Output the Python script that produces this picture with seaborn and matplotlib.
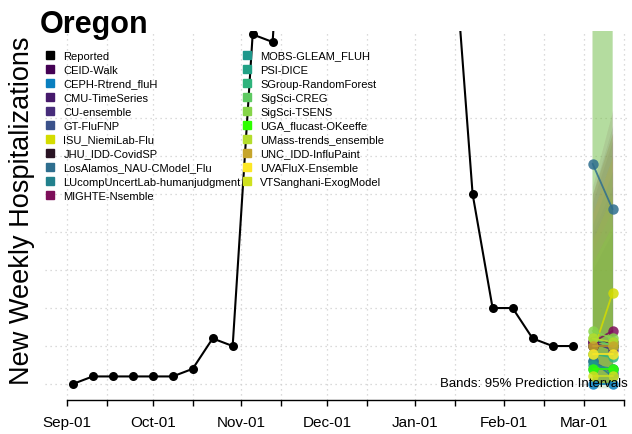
import pandas as pd
import numpy as np
import matplotlib
matplotlib.use("Agg")
import matplotlib.pyplot as plt
import matplotlib.dates as mdates
from matplotlib.lines import Line2D
from matplotlib.ticker import FuncFormatter
import seaborn as sns

# reported weekly hospitalizations (week ending dates)
rep_dates = ["2022-09-03", "2022-09-10", "2022-09-17", "2022-09-24", "2022-10-01",
             "2022-10-08", "2022-10-15", "2022-10-22", "2022-10-29", "2022-11-05",
             "2022-11-12", "2022-11-19", "2022-11-26", "2022-12-03", "2022-12-10",
             "2022-12-17", "2022-12-24", "2022-12-31", "2023-01-07", "2023-01-14",
             "2023-01-21", "2023-01-28", "2023-02-04", "2023-02-11", "2023-02-18",
             "2023-02-25"]
rep_values = [0, 2, 2, 2, 2, 2, 4, 12, 10, 92, 90, 180, 260, 310, 330, 300, 260,
              210, 160, 120, 50, 20, 20, 12, 10, 10]

fc_dates = ["2023-03-04", "2023-03-11"]

models = ["CEID-Walk", "CEPH-Rtrend_fluH", "CMU-TimeSeries", "CU-ensemble",
          "GT-FluFNP", "ISU_NiemiLab-Flu", "JHU_IDD-CovidSP",
          "LosAlamos_NAU-CModel_Flu", "LUcompUncertLab-humanjudgment",
          "MIGHTE-Nsemble", "MOBS-GLEAM_FLUH", "PSI-DICE", "SGroup-RandomForest",
          "SigSci-CREG", "SigSci-TSENS", "UGA_flucast-OKeeffe",
          "UMass-trends_ensemble", "UNC_IDD-InfluPaint", "UVAFluX-Ensemble",
          "VTSanghani-ExogModel"]
model_colors = ["#440154", "#0a7fbf", "#46196b", "#472d7b", "#3b528b", "#d4dc00",
                "#2a1424", "#2e6e8e", "#22818d", "#7d0f5a", "#1f978b", "#21a185",
                "#2eb37c", "#5ec962", "#86d549", "#2eff00", "#b4dd2c", "#c6a52c",
                "#fde725", "#cfe11f"]

# point forecasts for the two target weeks
fc_mar04 = [11, 0, 10, 11, 6, 8, 10, 58, 6, 11, 5, 4, 8, 12, 14, 4, 12, 10, 8, 2]
fc_mar11 = [11, 0, 10, 9, 3, 24, 10, 46, 2, 14, 4, 4, 7, 10, 12, 4, 11, 10, 8, 2]

# 95% prediction intervals
lo_mar04 = [0, -1, 0, 0, 0, 0, 0, 5, 0, 0, 0, 0, 0, 0, 0, 0, 0, 0, 0, -1]
lo_mar11 = [0, -1, 0, 0, 0, 0, 0, 2, 0, 0, 0, 0, 0, 0, 0, 0, 0, 0, 0, -1]
hi_mar04 = [45, 30, 50, 48, 40, 100, 50, 110, 38, 52, 42, 35, 95, 110, 130, 32, 100, 50, 45, 38]
hi_mar11 = [60, 40, 68, 64, 52, 130, 66, 150, 50, 72, 56, 46, 125, 150, 180, 42, 140, 66, 60, 50]

sns.set_style("white")
plt.rcParams["font.family"] = ["Liberation Sans", "DejaVu Sans"]
plt.rcParams["text.color"] = "black"

fig = plt.figure(figsize=(6.32, 4.35), dpi=100)
ax = fig.add_axes([45 / 632, 1 - 401 / 435, 585 / 632, 369 / 435])

rep = pd.DataFrame({"date": pd.to_datetime(rep_dates), "value": rep_values})
fc = pd.DataFrame({
    "date": np.repeat(pd.to_datetime(fc_dates), len(models)),
    "model": models * 2,
    "value": fc_mar04 + fc_mar11,
})
palette = dict(zip(models, model_colors))
fdates = pd.to_datetime(fc_dates)

# grid
for v in range(0, 80, 10):
    ax.axhline(v, color="#cfcfcf", lw=0.9, ls=(0, (1, 3)), zorder=0)

# bands
for i, m in enumerate(models):
    ax.fill_between(fdates, [lo_mar04[i], lo_mar11[i]], [hi_mar04[i], hi_mar11[i]],
                    color=model_colors[i], alpha=0.12, lw=0, zorder=1)

sns.lineplot(data=rep, x="date", y="value", color="black", marker="o",
             markersize=6.5, markeredgewidth=0, lw=1.5, ax=ax, zorder=3)
sns.lineplot(data=fc, x="date", y="value", hue="model", palette=palette,
             marker="o", markersize=7.5, markeredgewidth=0, lw=1.3, alpha=0.85,
             legend=False, ax=ax, zorder=3)

# axes
x0 = mdates.date2num(pd.Timestamp("2022-09-01"))
x1 = mdates.date2num(pd.Timestamp("2023-03-15"))
ax.set_xlim(x0 - 7.7, mdates.date2num(pd.Timestamp("2023-03-01")) + 16.1)
ax.set_ylim(-4.2, 92.9)
ax.xaxis.set_major_locator(mdates.DayLocator(bymonthday=[1, 15]))
ax.xaxis.set_major_formatter(FuncFormatter(
    lambda x, p: mdates.num2date(x).strftime("%b-%d") if mdates.num2date(x).day == 1 else ""))
ax.grid(axis="x", color="#cfcfcf", lw=0.9, ls=(0, (1, 3)))
ax.set_axisbelow(True)
ax.tick_params(axis="x", length=4.5, width=1, color="black", labelsize=11, pad=6.2,
               bottom=True, labelcolor="black")
ax.set_yticks([])
for s in ["left", "top", "right"]:
    ax.spines[s].set_visible(False)
ax.spines["bottom"].set_bounds(x0, x1)
ax.spines["bottom"].set_color("black")
ax.spines["bottom"].set_linewidth(1)
ax.set_xlabel("")
ax.set_ylabel("")

ax.text(0.997, 0.046, "Bands: 95% Prediction Intervals", transform=ax.transAxes,
        ha="right", va="center", fontsize=9.5, color="black", zorder=5)

fig.text(40 / 632, 1 - 33 / 435, "Oregon", ha="left", va="baseline",
         fontsize=22, fontweight="bold", color="black")
fig.text(22 / 632, 1 - 211 / 435, "New Weekly Hospitalizations", rotation=90,
         ha="center", va="center", fontsize=19.5, color="black")

handles = [Line2D([], [], marker="s", ls="none", color="black", markersize=5.5,
                  label="Reported")]
handles += [Line2D([], [], marker="s", ls="none", color=c, markersize=5.5, label=m)
            for m, c in zip(models, model_colors)]
fig.legend(handles=handles, loc="upper left", ncol=2, frameon=False, fontsize=8,
           bbox_to_anchor=(44.5 / 632, 1 - 51.5 / 435), borderpad=0,
           borderaxespad=0, handlelength=1.0, handletextpad=0.7,
           columnspacing=0.06, labelspacing=0.36, labelcolor="black")

fig.savefig("out.png", dpi=100)
